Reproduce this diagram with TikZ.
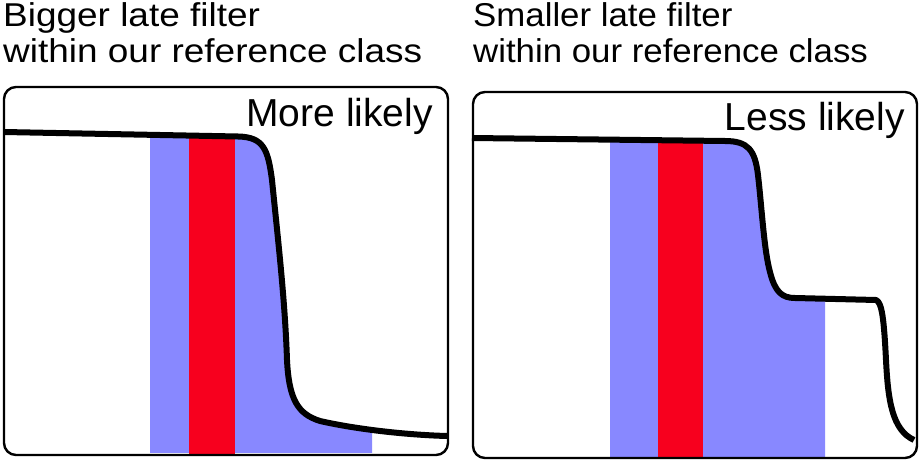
\documentclass[tikz,border=0pt]{standalone}
\usepackage{fontspec}
\setmainfont{Liberation Sans}
\newfontfamily\titlefont[FakeStretch=1.12]{Liberation Sans}
\newfontfamily\titlefontb[FakeStretch=1.055]{Liberation Sans}
\usepackage{tikz}
\usetikzlibrary{positioning}
\definecolor{bandblue}{RGB}{136,136,255}
\definecolor{bandred}{RGB}{247,0,30}
\tikzset{
x=1pt, y=-1pt, % one unit is one pixel of the figure
panel/.style={draw, line width=2.4pt, rounded corners=12pt}, % the two frames
filter/.style={line width=6pt, line join=round}, % the survival curve
title/.style={inner sep=0pt, anchor=base west, font=\titlefont\fontsize{33}{36}\selectfont},
titleb/.style={title, font=\titlefontb\fontsize{33}{36}\selectfont},
verdict/.style={inner sep=0pt, anchor=base east, font=\fontsize{39}{44}\selectfont},
}

\begin{document}
\begin{tikzpicture}
        \useasboundingbox (0,0) rectangle (919,460);
        % titles
        \node[title] at (3,26.5) (t1) {Bigger late filter};
        \node[title] at (3,62.5) (t2) {within our reference class};
        \node[titleb] at (473,26.5) (t3) {Smaller late filter};
        \node[titleb] at (473,62.5) (t4) {within our reference class};
        % left panel
        \begin{scope}
        \clip (150,0) rectangle (372,452);
        \fill[bandblue] (4,132) -- (238,136.5) .. controls (264,137) and (268,150) .. (272,180)
          .. controls (278,240) and (285,300) .. (287,360) .. controls (289,400) and (298,414) .. (320,421)
          .. controls (360,430) and (410,435) .. (447,436) -- (447,460) -- (4,460) -- cycle;
        \end{scope}
        \fill[bandred] (189,137) rectangle (235,454);
        \draw[filter] (4,132) -- (238,136.5) .. controls (264,137) and (268,150) .. (272,180)
          .. controls (278,240) and (285,300) .. (287,360) .. controls (289,400) and (298,414) .. (320,421)
          .. controls (360,430) and (410,435) .. (447,436);
        \draw[panel] (4,87) rectangle (448,455);
        \node[verdict] at (433,126.5) (v1) {More likely};
        % right panel
        \begin{scope}
        \clip (610,0) rectangle (825,456);
        \fill[bandblue] (472,138) -- (725,141) .. controls (748,141) and (755,150) .. (758,175)
          .. controls (762,210) and (764,250) .. (770,272) .. controls (775,292) and (782,298) .. (795,298)
          -- (876,300) -- (876,460) -- (472,460) -- cycle;
        \end{scope}
        \fill[bandred] (658,142) rectangle (703,457);
        \draw[filter] (472,138) -- (725,141) .. controls (748,141) and (755,150) .. (758,175)
          .. controls (762,210) and (764,250) .. (770,272) .. controls (775,292) and (782,298) .. (795,298)
          -- (876,300) .. controls (882,302) and (884,320) .. (886,360)
          .. controls (888,400) and (892,430) .. (914,440);
        \draw[panel] (473,92) rectangle (917,458);
        \node[verdict] at (905,130) (v2) {Less likely};
\end{tikzpicture}
\end{document}
